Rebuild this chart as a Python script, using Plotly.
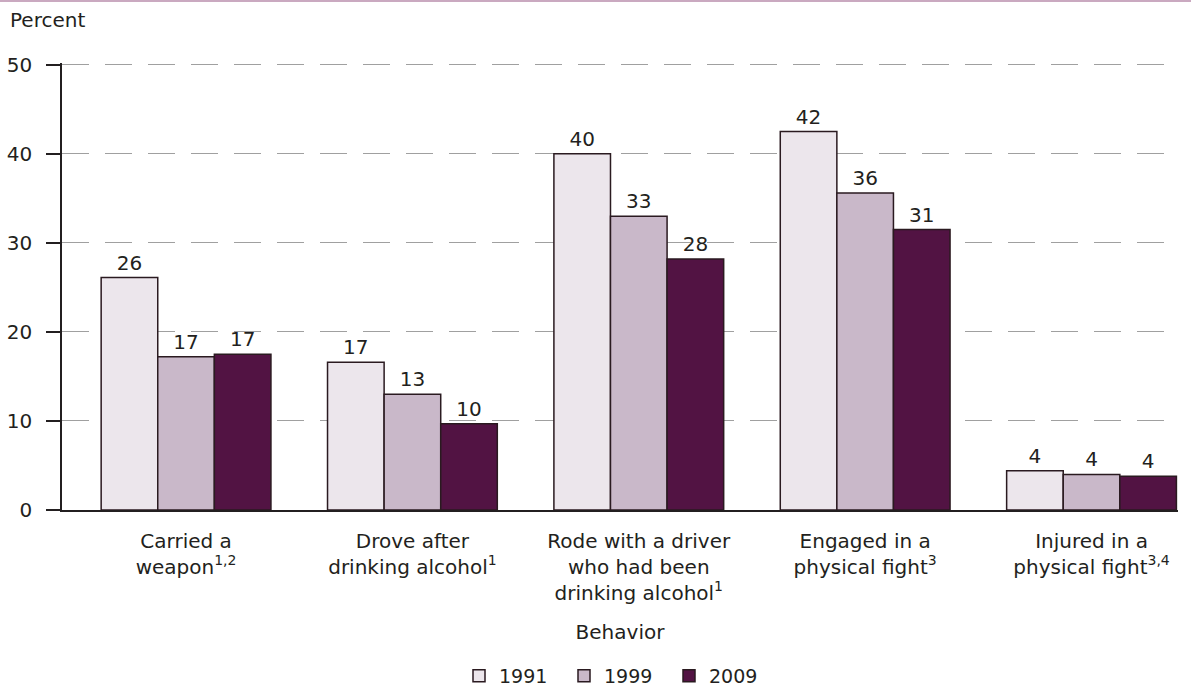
import plotly.graph_objects as go

categories = [
    "Carried a<br>weapon<sup>1,2</sup>",
    "Drove after<br>drinking alcohol<sup>1</sup>",
    "Rode with a driver<br>who had been<br>drinking alcohol<sup>1</sup>",
    "Engaged in a<br>physical fight<sup>3</sup>",
    "Injured in a<br>physical fight<sup>3,4</sup>",
]
years = ["1991", "1999", "2009"]
values_1991 = [26.1, 16.6, 40.0, 42.5, 4.4]
values_1999 = [17.2, 13.0, 33.0, 35.6, 4.0]
values_2009 = [17.5, 9.7, 28.2, 31.5, 3.8]
labels_1991 = ["26", "17", "40", "42", "4"]
labels_1999 = ["17", "13", "33", "36", "4"]
labels_2009 = ["17", "10", "28", "31", "4"]
colors = ["#ece6ec", "#c9b8c9", "#521343"]
y_ticks = [0, 10, 20, 30, 40, 50]

FONT = "DejaVu Sans"
TXT = "#231f20"
FS = 20
xpos = list(range(len(categories)))

fig = go.Figure()
for yr, vals, labs, col in zip(years, [values_1991, values_1999, values_2009],
                               [labels_1991, labels_1999, labels_2009], colors):
    fig.add_trace(go.Bar(
        x=xpos, y=vals, name=yr, text=labs, textposition="outside",
        texttemplate="%{text}", cliponaxis=False,
        textfont=dict(family=FONT, size=FS, color=TXT),
        marker=dict(color=col, line=dict(color="#2a1a20", width=1.5)),
    ))

L, R, T, B = 62, 13, 63, 178
W = 1191 - L - R
H = 688 - T - B

fig.update_layout(
    width=1191, height=688,
    margin=dict(l=L, r=R, t=T, b=B, autoexpand=False),
    paper_bgcolor="white", plot_bgcolor="white",
    barmode="group", bargap=0.25, bargroupgap=0,
    font=dict(family=FONT, size=FS, color=TXT),
    showlegend=True,
    legend=dict(orientation="h", x=(459 - L) / W, xanchor="left",
                y=(T + H - 676) / H, yanchor="middle",
                font=dict(family=FONT, size=19, color=TXT), traceorder="normal",
                itemwidth=30, entrywidth=60, entrywidthmode="pixels"),
    xaxis=dict(
        tickmode="array", tickvals=xpos, ticktext=categories,
        range=[-0.548, 4.382], showgrid=False, zeroline=False, automargin=False,
        showline=True, linecolor="#231f20", linewidth=1.5,
        ticks="", ticklabelstandoff=12, tickfont=dict(family=FONT, size=FS, color=TXT),
        title=dict(text="Behavior", font=dict(family=FONT, size=FS, color=TXT), standoff=21),
    ),
    yaxis=dict(
        range=[0, 50.2], tickmode="array", tickvals=y_ticks, automargin=False,
        showgrid=True, gridcolor="#a0a0a0", griddash="27px,16px", gridwidth=1,
        zeroline=False, showline=True, linecolor="#231f20", linewidth=1.5,
        ticks="outside", ticklen=14, tickcolor="#231f20", tickwidth=1.5,
        ticklabelstandoff=10,
        tickfont=dict(family=FONT, size=FS, color=TXT),
    ),
    shapes=[dict(type="line", xref="paper", yref="paper",
                 x0=-L / W, x1=1 + R / W, y0=(H + T - 1) / H, y1=(H + T - 1) / H,
                 line=dict(color="#b88cab", width=1.5))],
    annotations=[dict(text="Percent", xref="paper", yref="paper",
                      x=(8 - L) / W, y=(H + T - 20) / H, xanchor="left", yanchor="middle",
                      showarrow=False, font=dict(family=FONT, size=FS, color=TXT))],
)

fig.write_html("out.html", config={"displayModeBar": False},
               post_script="document.body.style.margin='0px';")
